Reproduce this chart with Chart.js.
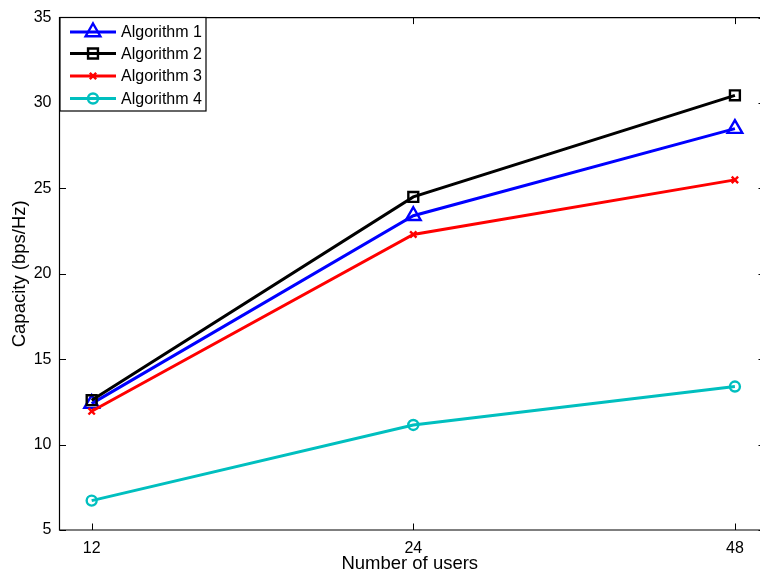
<!DOCTYPE html>
<html>
<head>
<meta charset="utf-8">
<script src="https://cdn.jsdelivr.net/npm/chart.js@4.4.0/dist/chart.umd.min.js"></script>
<style>
html,body{margin:0;padding:0;overflow:hidden;background:#fff;}
canvas{display:block;}
</style>
</head>
<body>
<canvas id="c" width="760" height="573"></canvas>
<script>
const userCounts = ["12", "24", "48"];
const seriesNames = ["Algorithm 1", "Algorithm 2", "Algorithm 3", "Algorithm 4"];
const alg1 = [12.4, 23.4, 28.5];
const alg2 = [12.6, 24.5, 30.45];
const alg3 = [11.95, 22.3, 25.5];
const alg4 = [6.72, 11.15, 13.4];
const yTicks = [5, 10, 15, 20, 25, 30, 35];

const FONT = '"Liberation Sans", Arial, Helvetica, sans-serif';
const colors = ['#0000ff', '#000000', '#ff0000', '#00bfbf'];
const styles = ['triangle', 'rect', 'crossRot', 'circle'];
const radii = [8.5, 7, 4.5, 5];
const values = [alg1, alg2, alg3, alg4];

const datasets = values.map((vals, i) => ({
  label: seriesNames[i],
  data: vals.map((v, k) => ({x: k, y: v})),
  borderColor: colors[i],
  borderWidth: 3,
  pointStyle: styles[i],
  pointRadius: radii[i],
  pointHoverRadius: radii[i],
  pointBorderWidth: 2.4,
  pointBorderColor: colors[i],
  pointBackgroundColor: 'rgba(0,0,0,0)',
  fill: false,
  tension: 0
}));
datasets.forEach((d, i) => d.order = 4 - i);

const boxPlugin = {
  id: 'boxTicks',
  afterDatasetsDraw(chart) {
    const {ctx, chartArea: a, scales} = chart;
    ctx.save();
    ctx.strokeStyle = '#000';
    ctx.lineWidth = 1.2;
    // left, top, bottom spines (the right spine lies just past the picture edge)
    ctx.beginPath();
    ctx.moveTo(a.right + 10, a.top); ctx.lineTo(a.left, a.top);
    ctx.lineTo(a.left, a.bottom); ctx.lineTo(a.right + 10, a.bottom);
    ctx.stroke();
    const L = 6.5;
    ctx.beginPath();
    scales.x.ticks.forEach(t => {
      const px = Math.round(scales.x.getPixelForValue(t.value)) + 0.5;
      ctx.moveTo(px, a.bottom); ctx.lineTo(px, a.bottom - L);
      ctx.moveTo(px, a.top); ctx.lineTo(px, a.top + L);
    });
    scales.y.ticks.forEach(t => {
      const py = Math.round(scales.y.getPixelForValue(t.value)) + 0.5;
      ctx.moveTo(a.left, py); ctx.lineTo(a.left + L, py);
      ctx.moveTo(a.right + 1, py); ctx.lineTo(a.right - 1.5, py);
    });
    ctx.lineWidth = 1;
    ctx.stroke();
    ctx.restore();
  },
  afterDraw(chart) {
    const ctx = chart.ctx;
    const bx = 60, by = 17.5, bw = 146, bh = 93.5;
    ctx.save();
    ctx.fillStyle = '#fff';
    ctx.fillRect(bx, by, bw, bh);
    ctx.strokeStyle = '#000';
    ctx.lineWidth = 1.2;
    ctx.strokeRect(bx, by, bw, bh);
    const rows = [32, 53.5, 76, 98.5];
    chart.data.datasets.forEach((ds, i) => {
      const y = rows[i];
      ctx.strokeStyle = ds.borderColor;
      ctx.lineWidth = 3;
      ctx.beginPath();
      ctx.moveTo(70, y); ctx.lineTo(116, y);
      ctx.stroke();
      ctx.lineWidth = ds.pointBorderWidth;
      ctx.fillStyle = 'rgba(0,0,0,0)';
      Chart.helpers.drawPoint(ctx, {
        pointStyle: ds.pointStyle, radius: ds.pointRadius, borderWidth: ds.pointBorderWidth, rotation: 0
      }, 93, y);
      ctx.fillStyle = '#000';
      ctx.font = '16px ' + FONT;
      ctx.textBaseline = 'middle';
      ctx.textAlign = 'left';
      ctx.fillText(ds.label, 121, y + 1);
    });
    ctx.restore();
  }
};

new Chart(document.getElementById('c'), {
  type: 'line',
  data: {datasets},
  options: {
    responsive: false,
    devicePixelRatio: 1,
    animation: false,
    events: [],
    layout: {autoPadding: false, padding: {left: 0, top: 17.5, right: 0, bottom: 0}},
    plugins: {legend: {display: false}, tooltip: {enabled: false}},
    scales: {
      x: {
        type: 'linear',
        min: -0.1, max: 2.078,
        afterBuildTicks: s => { s.ticks = userCounts.map((_, k) => ({value: k})); },
        afterFit: s => { s.height = 43; },
        grid: {display: false, drawTicks: false},
        border: {display: false},
        ticks: {
          callback: v => userCounts[v] ?? '',
          color: '#000', padding: 9, maxRotation: 0,
          font: {family: FONT, size: 16}
        },
        title: {display: true, text: 'Number of users', color: '#000',
          font: {family: FONT, size: 18.5}, padding: {top: 0, bottom: -2}}
      },
      y: {
        min: 5, max: 35,
        afterBuildTicks: s => { s.ticks = yTicks.map(v => ({value: v})); },
        afterFit: s => { s.width = 59.5; },
        grid: {display: false, drawTicks: false},
        border: {display: false},
        ticks: {color: '#000', padding: 8, font: {family: FONT, size: 16}},
        title: {display: true, text: 'Capacity (bps/Hz)', color: '#000',
          font: {family: FONT, size: 18.5}, padding: {top: 9, bottom: 0}}
      }
    }
  },
  plugins: [boxPlugin]
});
</script>
</body>
</html>
